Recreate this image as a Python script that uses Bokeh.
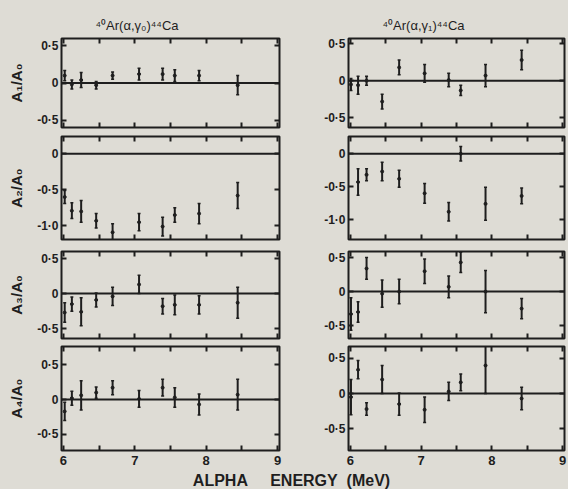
import math
from bokeh.plotting import figure
from bokeh.models import Range1d, LinearAxis, FixedTicker, Span, Label, ColumnDataSource
from bokeh.layouts import column, row
from bokeh.embed import file_html
from bokeh.resources import INLINE

NAN = float("nan")

# ---- data ----
titles = ["\u2074\u2070Ar(\u03b1,\u03b3\u2080)\u2074\u2074Ca", "\u2074\u2070Ar(\u03b1,\u03b3\u2081)\u2074\u2074Ca"]
ylabels = ["A\u2081/A\u2080", "A\u2082/A\u2080", "A\u2083/A\u2080", "A\u2084/A\u2080"]
x_label = "ALPHA\u00a0\u00a0\u00a0\u00a0 ENERGY\u00a0 (MeV)"

energy_g0 = [6.02, 6.12, 6.25, 6.46, 6.69, 7.06, 7.39, 7.56, 7.90, 8.44]
energy_g1 = [6.01, 6.11, 6.23, 6.45, 6.69, 7.05, 7.39, 7.56, 7.91, 8.42]

a1_g0 = [0.10, -0.02, 0.04, -0.03, 0.10, 0.12, 0.12, 0.10, 0.10, -0.03]
a1_g0_err = [0.07, 0.06, 0.10, 0.05, 0.05, 0.08, 0.08, 0.08, 0.07, 0.13]
a2_g0 = [-0.60, -0.79, -0.80, -0.93, -1.09, -0.95, -1.01, -0.85, -0.83, -0.58]
a2_g0_err = [0.09, 0.11, 0.15, 0.10, 0.12, 0.12, 0.13, 0.10, 0.14, 0.18]
a3_g0 = [-0.27, -0.15, -0.26, -0.09, -0.04, 0.13, -0.18, -0.16, -0.16, -0.13]
a3_g0_err = [0.14, 0.10, 0.20, 0.10, 0.13, 0.13, 0.11, 0.14, 0.13, 0.22]
a4_g0 = [-0.17, 0.02, 0.06, 0.10, 0.17, 0.01, 0.17, 0.03, -0.07, 0.07]
a4_g0_err = [0.13, 0.10, 0.21, 0.08, 0.10, 0.12, 0.12, 0.14, 0.15, 0.22]

a1_g1 = [-0.05, -0.06, 0.00, -0.28, 0.18, 0.10, 0.01, -0.13, 0.07, 0.28]
a1_g1_err = [0.08, 0.12, 0.06, 0.10, 0.10, 0.12, 0.09, 0.07, 0.15, 0.13]
a2_g1 = [NAN, -0.43, -0.32, -0.27, -0.38, -0.60, -0.88, 0.00, -0.76, -0.64]
a2_g1_err = [NAN, 0.20, 0.09, 0.14, 0.13, 0.15, 0.14, 0.11, 0.25, 0.12]
a3_g1 = [-0.33, -0.30, 0.34, -0.03, 0.00, 0.30, 0.07, 0.43, 0.00, -0.25]
a3_g1_err = [0.24, 0.15, 0.16, 0.20, 0.18, 0.18, 0.16, 0.15, 0.31, 0.15]
a4_g1 = [-0.05, 0.34, -0.22, 0.20, -0.15, -0.23, 0.03, 0.16, 0.40, -0.07]
a4_g1_err = [0.25, 0.13, 0.09, 0.20, 0.16, 0.18, 0.13, 0.12, 0.40, 0.16]

x_ticks = [6, 6.5, 7, 7.5, 8, 8.5, 9]
x_tick_labels = {6: "6", 6.5: "", 7: "7", 7.5: "", 8: "8", 8.5: "", 9: "9"}
y_ticks_small = [-0.5, 0, 0.5]
y_ticks_a2 = [-1.0, -0.5, 0]
y_tick_labels = {0.5: "0\u00b75", 0: "0", -0.5: "-0\u00b75", -1.0: "-1\u00b70"}

# ---- style ----
BG = "#dedcd5"
INK = "#1e1e1e"
FONT = "Liberation Sans"

rows_spec = [
    # (height, min_border_top, min_border_bottom, yrange left, yrange right, yticks)
    (132, 38, 5, (-0.60, 0.60), (-0.63, 0.57), y_ticks_small),
    (113, 4, 6, (-1.19, 0.24), (-1.30, 0.26), y_ticks_a2),
    (98, 6, 5, (-0.64, 0.60), (-0.69, 0.59), y_ticks_small),
    (127, 3, 20, (-0.73, 0.76), (-0.81, 0.67), y_ticks_small),
]
data_g0 = [(a1_g0, a1_g0_err), (a2_g0, a2_g0_err), (a3_g0, a3_g0_err), (a4_g0, a4_g0_err)]
data_g1 = [(a1_g1, a1_g1_err), (a2_g1, a2_g1_err), (a3_g1, a3_g1_err), (a4_g1, a4_g1_err)]


def hide_labels(ax):
    ax.major_label_text_color = None
    ax.major_label_text_font_size = "0px"
    ax.major_label_standoff = 0


def make_panel(i, col, energies, vals, errs):
    height, mbt, mbb, yr_l, yr_r, yticks = rows_spec[i]
    yr = yr_l if col == 0 else yr_r
    if col == 0:
        width, mbl, mbr = 300, 61, 21
    else:
        width, mbl, mbr = 268, 48, 4
    p = figure(width=width, height=height, x_range=Range1d(5.975, 9.025), y_range=Range1d(*yr),
               output_backend="svg", toolbar_location=None,
               min_border_left=mbl, min_border_right=mbr, min_border_top=mbt, min_border_bottom=mbb,
               background_fill_color=BG, border_fill_color=BG,
               outline_line_color=INK, outline_line_width=2,
               styles={"background-color": BG})
    p.grid.visible = False

    xa = p.xaxis[0]
    xa.ticker = FixedTicker(ticks=x_ticks)
    xa.major_tick_in = 5
    xa.major_tick_out = 0
    xa.minor_tick_line_color = None
    xa.axis_line_color = None
    xa.major_tick_line_color = INK
    xa.major_tick_line_width = 2
    if i == 3:
        xa.major_label_overrides = x_tick_labels
        xa.major_label_text_font = FONT
        xa.major_label_text_font_style = "bold"
        xa.major_label_text_font_size = "13px"
        xa.major_label_text_color = INK
        xa.major_label_standoff = 5
    else:
        hide_labels(xa)

    ya = p.yaxis[0]
    ya.ticker = FixedTicker(ticks=yticks)
    ya.major_tick_in = 5
    ya.major_tick_out = 0
    ya.minor_tick_line_color = None
    ya.axis_line_color = None
    ya.major_tick_line_color = INK
    ya.major_tick_line_width = 2
    ya.major_label_overrides = y_tick_labels
    ya.major_label_text_font = FONT
    ya.major_label_text_font_style = "bold"
    ya.major_label_text_font_size = "12px"
    ya.major_label_text_color = INK
    ya.major_label_standoff = 3
    if col == 0:
        ya.axis_label = ylabels[i]
        ya.axis_label_text_font = FONT
        ya.axis_label_text_font_style = "bold"
        ya.axis_label_text_font_size = "15px"
        ya.axis_label_text_color = INK
        ya.axis_label_standoff = 9

    top = LinearAxis(ticker=FixedTicker(ticks=x_ticks), major_tick_in=5, major_tick_out=0,
                     minor_tick_line_color=None, axis_line_color=None,
                     major_tick_line_color=INK, major_tick_line_width=2)
    hide_labels(top)
    p.add_layout(top, "above")
    right = LinearAxis(ticker=FixedTicker(ticks=yticks), major_tick_in=5, major_tick_out=0,
                       minor_tick_line_color=None, axis_line_color=None,
                       major_tick_line_color=INK, major_tick_line_width=2)
    hide_labels(right)
    p.add_layout(right, "right")

    if i == 0:
        p.title.text = titles[col]
        p.title.align = "left"
        p.title.offset = 34
        p.title.text_font = FONT
        p.title.text_font_style = "normal"
        p.title.text_font_size = "13px"
        p.title.text_color = INK
        p.title.standoff = 11

    p.add_layout(Span(location=0, dimension="width", line_color=INK, line_width=2))

    lo = [v - e for v, e in zip(vals, errs)]
    hi = [v + e for v, e in zip(vals, errs)]
    src = ColumnDataSource(dict(x=energies, y=vals, lo=lo, hi=hi))
    p.segment(x0="x", y0="lo", x1="x", y1="hi", source=src, line_color=INK, line_width=2)
    p.scatter(x="x", y="lo", source=src, marker="dash", size=3, line_color=INK, line_width=1.5)
    p.scatter(x="x", y="hi", source=src, marker="dash", size=3, line_color=INK, line_width=1.5)
    p.scatter(x="x", y="y", source=src, marker="circle", size=3, fill_color=INK, line_color=INK)
    return p


rows = []
for i in range(4):
    left = make_panel(i, 0, energy_g0, *data_g0[i])
    right = make_panel(i, 1, energy_g1, *data_g1[i])
    rows.append(row(left, right, styles={"background-color": BG}))

lab = figure(width=568, height=19, x_range=Range1d(0, 568), y_range=Range1d(0, 1),
             output_backend="svg", toolbar_location=None,
             min_border_left=0, min_border_right=0, min_border_top=0, min_border_bottom=0,
             background_fill_color=BG, border_fill_color=BG, outline_line_color=None,
             styles={"background-color": BG})
lab.axis.visible = False
lab.grid.visible = False
lab.add_layout(Label(x=291, y=0.45, text=x_label, text_align="center", text_baseline="middle",
                     text_font=FONT, text_font_style="bold", text_font_size="16px", text_color=INK))

layout = column(*rows, lab, styles={"background-color": BG})
html = file_html(layout, INLINE)
html = html.replace("<body>", '<body style="background:%s">' % BG, 1)
open("out.html", "w").write(html)
